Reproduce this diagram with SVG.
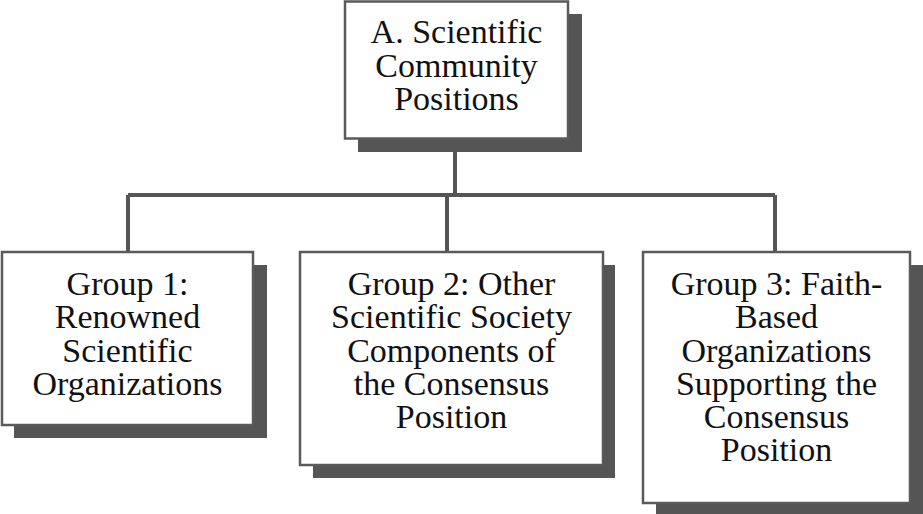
<svg xmlns="http://www.w3.org/2000/svg" width="923" height="514" viewBox="0 0 923 514">
<style>
.shadow{fill:#555555;}
.box{fill:#ffffff;stroke:#5a5a5a;stroke-width:2.5;}
.conn{fill:none;stroke:#555555;stroke-width:4;}
text{font-family:"Liberation Serif","DejaVu Serif",serif;font-size:34px;fill:#111111;text-anchor:middle;}
</style>
<rect width="923" height="514" fill="#ffffff"/>
<g id="connectors">
<path class="conn" d="M455,138 V195 M128,195 H775 M128,195 V252 M447,195 V252 M775,195 V252"/>
</g>
<g id="nodeA">
<rect class="shadow" x="358" y="14" width="224" height="138"/>
<rect class="box" x="345" y="1.5" width="223" height="137"/>
<text x="456.5" y="43">A. Scientific</text>
<text x="456.5" y="77">Community</text>
<text x="456.5" y="110">Positions</text>
</g>
<g id="group1">
<rect class="shadow" x="14" y="265" width="253" height="173"/>
<rect class="box" x="2" y="252" width="251" height="173"/>
<text x="127.5" y="295">Group 1:</text>
<text x="127.5" y="328">Renowned</text>
<text x="127.5" y="362">Scientific</text>
<text x="127.5" y="395">Organizations</text>
</g>
<g id="group2">
<rect class="shadow" x="313" y="265" width="302" height="213"/>
<rect class="box" x="300" y="252" width="303" height="213"/>
<text x="451.5" y="295">Group 2: Other</text>
<text x="451.5" y="328">Scientific Society</text>
<text x="451.5" y="362">Components of</text>
<text x="451.5" y="395">the Consensus</text>
<text x="451.5" y="428">Position</text>
</g>
<g id="group3">
<rect class="shadow" x="656" y="265" width="267" height="250"/>
<rect class="box" x="643" y="252" width="267" height="251"/>
<text x="776.5" y="295">Group 3: Faith-</text>
<text x="776.5" y="328">Based</text>
<text x="776.5" y="362">Organizations</text>
<text x="776.5" y="395">Supporting the</text>
<text x="776.5" y="428">Consensus</text>
<text x="776.5" y="461">Position</text>
</g>
</svg>
